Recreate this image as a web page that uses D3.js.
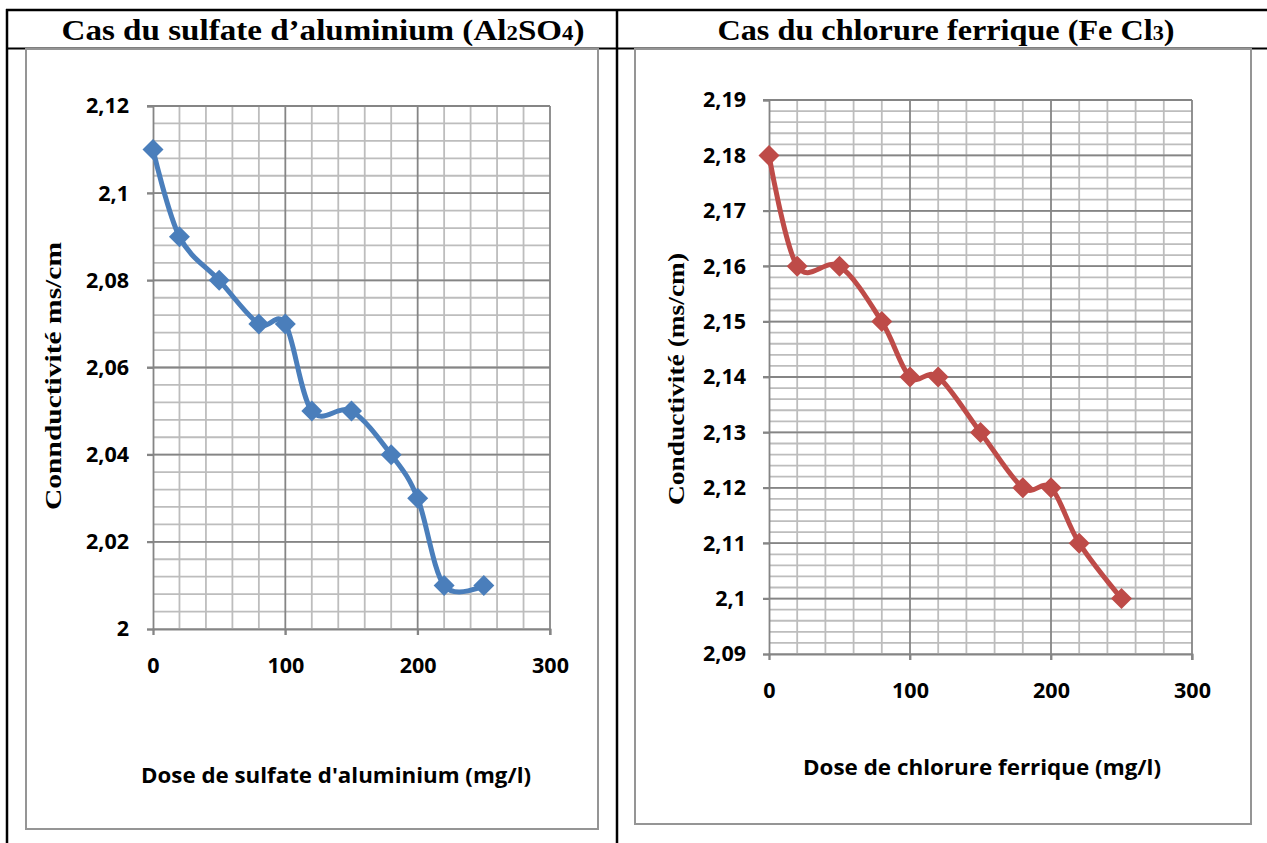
<!DOCTYPE html>
<html>
<head>
<meta charset="utf-8">
<script src="https://cdn.jsdelivr.net/npm/d3@7"></script>
<style>
  body { margin: 0; background: #fff; }
  svg { display: block; }
</style>
</head>
<body>
<div id="page"></div>
<script>
// values
var sulfateDose = [0, 20, 50, 80, 100, 120, 150, 180, 200, 220, 250];
var sulfateCond = [2.11, 2.09, 2.08, 2.07, 2.07, 2.05, 2.05, 2.04, 2.03, 2.01, 2.01];
var ferricDose = [0, 20, 50, 80, 100, 120, 150, 180, 200, 220, 250];
var ferricCond = [2.18, 2.16, 2.16, 2.15, 2.14, 2.14, 2.13, 2.12, 2.12, 2.11, 2.10];
var xTicks = [0, 100, 200, 300];
var sulfateYTicks = [2, 2.02, 2.04, 2.06, 2.08, 2.1, 2.12];
var ferricYTicks = [2.09, 2.1, 2.11, 2.12, 2.13, 2.14, 2.15, 2.16, 2.17, 2.18, 2.19];

var width = 1267, height = 843;
var sans = "'Open Sans', Lato, sans-serif";
var serif = "'Liberation Serif', 'Times New Roman', serif";

var svg = d3.select("#page").append("svg")
    .attr("width", width)
    .attr("height", height);

// table borders (document layout)
svg.append("line").attr("x1", 6).attr("x2", width).attr("y1", 10).attr("y2", 10)
   .attr("stroke", "#000").attr("stroke-width", 2.5);
svg.append("line").attr("x1", 6).attr("x2", width).attr("y1", 48.5).attr("y2", 48.5)
   .attr("stroke", "#000").attr("stroke-width", 2);
svg.append("line").attr("x1", 7).attr("x2", 7).attr("y1", 9).attr("y2", height)
   .attr("stroke", "#000").attr("stroke-width", 2.5);
svg.append("line").attr("x1", 617).attr("x2", 617).attr("y1", 9).attr("y2", height)
   .attr("stroke", "#000").attr("stroke-width", 2.5);

function fmt(v) {
    return String(+v.toFixed(3)).replace(".", ",");
}

function title(x, len, parts) {
    var t = svg.append("text")
        .attr("x", x).attr("y", 40)
        .attr("text-anchor", "middle")
        .attr("font-family", serif)
        .attr("font-weight", "bold")
        .attr("font-size", 29)
        .attr("textLength", len)
        .attr("lengthAdjust", "spacingAndGlyphs");
    parts.forEach(function(p) {
        var s = t.append("tspan").text(p[0]);
        if (p[1]) s.attr("font-size", 20);
    });
}

title(323, 523, [["Cas du sulfate d\u2019aluminium (Al"], ["2", 1], ["SO"], ["4", 1], [")"]]);
title(946, 457, [["Cas du chlorure ferrique (Fe Cl"], ["3", 1], [")"]]);

function buildChart(c) {
    // chart frame
    svg.append("rect")
        .attr("x", c.frame[0]).attr("y", c.frame[1])
        .attr("width", c.frame[2]).attr("height", c.frame[3])
        .attr("fill", "#fff").attr("stroke", "#959595").attr("stroke-width", 2);

    var x = d3.scaleLinear().domain([0, 300]).range([c.left, c.right]);
    var y = d3.scaleLinear().domain(c.yDomain).range([c.bottom, c.top]);
    var g = svg.append("g");

    // minor grid
    var xMinor = d3.range(0, 301, 20).filter(function(d) { return d % 100 !== 0; });
    var yMinor = d3.range(0, Math.round((c.yDomain[1] - c.yDomain[0]) / c.yMinorStep) + 1)
        .map(function(i) { return c.yDomain[0] + i * c.yMinorStep; });
    g.selectAll(".vmin").data(xMinor).enter().append("line")
        .attr("x1", x).attr("x2", x).attr("y1", c.top).attr("y2", c.bottom)
        .attr("stroke", "#bdbdbd").attr("stroke-width", 1.8);
    g.selectAll(".hmin").data(yMinor).enter().append("line")
        .attr("x1", c.left).attr("x2", c.right)
        .attr("y1", function(d) { return y(d); }).attr("y2", function(d) { return y(d); })
        .attr("stroke", "#bdbdbd").attr("stroke-width", 1.8);

    // major grid
    g.selectAll(".vmaj").data(xTicks.slice(1)).enter().append("line")
        .attr("x1", x).attr("x2", x).attr("y1", c.top).attr("y2", c.bottom + 6)
        .attr("stroke", "#858585").attr("stroke-width", 1.8);
    g.selectAll(".hmaj").data(c.yTicks.slice(1)).enter().append("line")
        .attr("x1", c.left - 6).attr("x2", c.right)
        .attr("y1", function(d) { return y(d); }).attr("y2", function(d) { return y(d); })
        .attr("stroke", "#858585").attr("stroke-width", 1.8);

    // axes
    var xAxis = d3.axisBottom(x).tickValues(xTicks).tickSize(6).tickFormat(function(d) { return d; });
    var yAxis = d3.axisLeft(y).tickValues(c.yTicks).tickSize(6).tickFormat(fmt);
    var gx = g.append("g").attr("transform", "translate(0," + c.bottom + ")").call(xAxis);
    var gy = g.append("g").attr("transform", "translate(" + c.left + ",0)").call(yAxis);
    [gx, gy].forEach(function(a) {
        a.select(".domain").attr("stroke", "#858585").attr("stroke-width", 1.8);
        a.selectAll(".tick line").attr("stroke", "#858585").attr("stroke-width", 1.8);
        a.selectAll("text")
            .attr("font-family", sans)
            .attr("font-weight", "bold")
            .attr("font-size", 21.5)
            .attr("fill", "#000");
    });
    gx.selectAll("text").attr("dy", null).attr("y", c.xLabelDy);
    gy.selectAll("text").attr("x", -c.yLabelGap);

    // axis titles
    svg.append("text")
        .attr("x", c.xTitle[0]).attr("y", c.xTitle[1])
        .attr("text-anchor", "middle")
        .attr("font-family", sans)
        .attr("font-weight", "bold").attr("font-size", 20.5)
        .attr("textLength", c.xTitleLen)
        .attr("lengthAdjust", "spacingAndGlyphs")
        .text(c.xLabel);
    svg.append("text")
        .attr("transform", "translate(" + c.yTitle[0] + "," + c.yTitle[1] + ") rotate(-90)")
        .attr("text-anchor", "middle")
        .attr("font-family", serif)
        .attr("font-weight", "bold").attr("font-size", 24)
        .attr("textLength", c.yTitleLen)
        .attr("lengthAdjust", "spacingAndGlyphs")
        .text(c.yLabel);

    // smoothed series + diamond markers
    var pts = c.dose.map(function(d, i) { return [d, c.cond[i]]; });
    var line = d3.line()
        .x(function(d) { return x(d[0]); })
        .y(function(d) { return y(d[1]); })
        .curve(d3.curveCardinal.tension(0));
    g.append("path").datum(pts)
        .attr("d", line)
        .attr("fill", "none")
        .attr("stroke", c.color)
        .attr("stroke-width", 5)
        .attr("stroke-linejoin", "round");
    g.selectAll(".mk").data(pts).enter().append("path")
        .attr("transform", function(d) { return "translate(" + x(d[0]) + "," + y(d[1]) + ")"; })
        .attr("d", "M0,-10.5L10.5,0L0,10.5L-10.5,0Z")
        .attr("fill", c.color);
}

buildChart({
    frame: [26, 49, 572, 780],
    left: 153, right: 550, top: 106, bottom: 629,
    yDomain: [2, 2.12], yTicks: sulfateYTicks, yMinorStep: 0.004,
    dose: sulfateDose, cond: sulfateCond,
    color: "#4a7ebb",
    xLabelDy: 44, yLabelGap: 24,
    xLabel: "Dose de sulfate d'aluminium (mg/l)", xTitleLen: 390,
    yLabel: "Connductivit\u00e9 ms/cm", yTitleLen: 268,
    xTitle: [336, 783], yTitle: [61, 376]
});

buildChart({
    frame: [635, 49, 616, 775],
    left: 769, right: 1192, top: 100, bottom: 654,
    yDomain: [2.09, 2.19], yTicks: ferricYTicks, yMinorStep: 0.002,
    dose: ferricDose, cond: ferricCond,
    color: "#be4b48",
    xLabelDy: 44, yLabelGap: 23,
    xLabel: "Dose de chlorure ferrique (mg/l)", xTitleLen: 358,
    yLabel: "Conductivit\u00e9 (ms/cm)", yTitleLen: 252,
    xTitle: [982, 775], yTitle: [684, 379]
});
</script>
</body>
</html>
